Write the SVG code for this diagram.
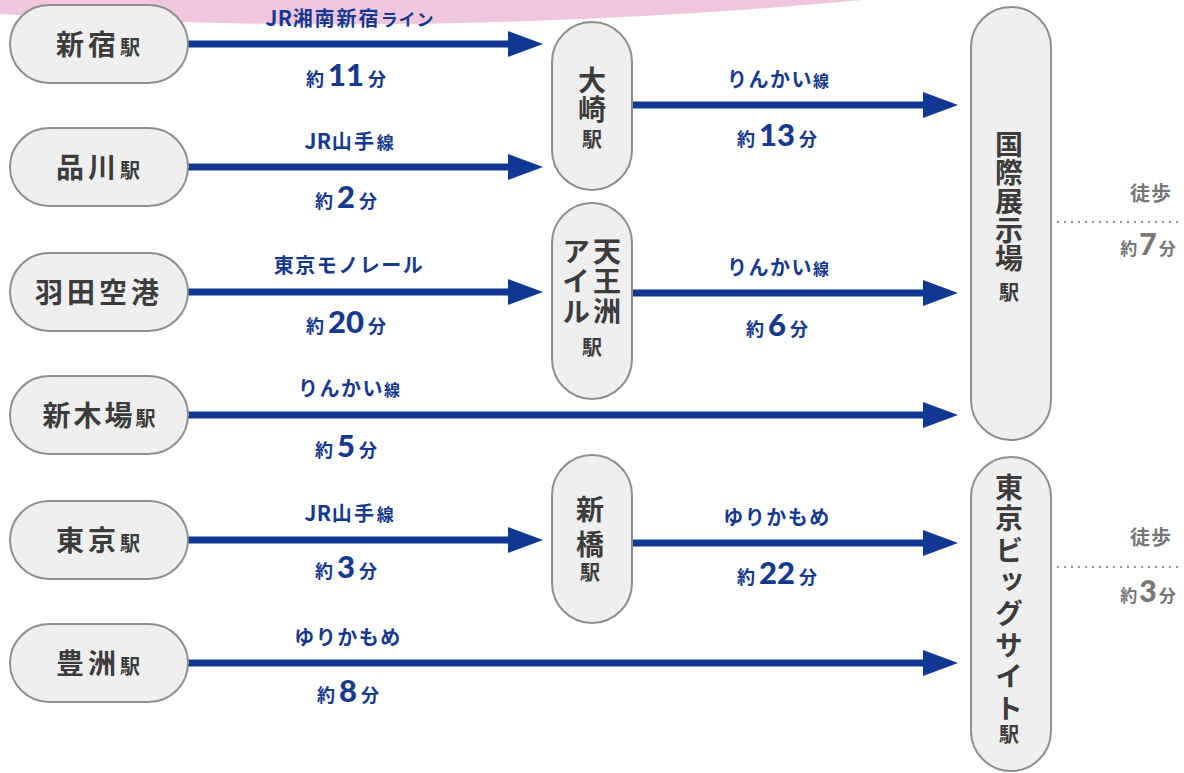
<svg xmlns="http://www.w3.org/2000/svg" width="1184" height="773" viewBox="0 0 1184 773">
<style>
.node{fill:#efefef;stroke:#8f8f8f;stroke-width:2}
.nt{font-family:"Noto Sans CJK JP","Noto Sans",sans-serif;font-weight:700;fill:#3c3c3c;text-anchor:middle;font-size:28px}
.nt .sm{font-size:20px;letter-spacing:0}
.vt{font-family:"Noto Sans CJK JP","Noto Sans",sans-serif;font-weight:700;fill:#3c3c3c;font-size:28px;writing-mode:vertical-rl;text-anchor:start}
.vt .sm{font-size:20px;letter-spacing:0}
.lbl{font-family:"Noto Sans CJK JP","Noto Sans",sans-serif;font-weight:700;fill:#15398e;text-anchor:middle;font-size:20px;letter-spacing:1.5px}
.lbl .s{font-size:16px;letter-spacing:0}
.lbl .jr{font-size:21px;letter-spacing:0.5px}
.tm{font-family:"Noto Sans CJK JP","Noto Sans",sans-serif;font-weight:700;fill:#15398e;text-anchor:middle;font-size:18px}
.tm .n{font-family:"Lato","Noto Sans",sans-serif;font-weight:900;font-size:31px}
.gr{font-family:"Noto Sans CJK JP","Noto Sans",sans-serif;font-weight:700;fill:#777;text-anchor:middle;font-size:20px;letter-spacing:1px}
.gt{font-family:"Noto Sans CJK JP","Noto Sans",sans-serif;font-weight:700;fill:#777;text-anchor:middle;font-size:17px}
.gt .n{font-family:"Lato","Noto Sans",sans-serif;font-weight:900;font-size:30px}
.arr{stroke:#103893;stroke-width:7;fill:none;marker-end:url(#ah)}
.dot{stroke:#9a9a9a;stroke-width:2.6;stroke-linecap:round;stroke-dasharray:0 7;fill:none}
</style>
<defs>
<marker id="ah" markerUnits="userSpaceOnUse" markerWidth="35" markerHeight="26" refX="1" refY="13" orient="auto">
<path d="M0,0 L35,13 L0,26 Z" fill="#103893"/>
</marker>
</defs>
<rect width="1184" height="773" fill="#ffffff"/>
<path d="M0,0 L0,14 Q430,40 862,0 Z" fill="#efc6de"/>

<g id="connectors">
<line class="arr" x1="188" y1="44" x2="509" y2="44"/>
<line class="arr" x1="188" y1="167" x2="509" y2="167"/>
<line class="arr" x1="188" y1="292" x2="509" y2="292"/>
<line class="arr" x1="188" y1="415" x2="924" y2="415"/>
<line class="arr" x1="188" y1="540" x2="509" y2="540"/>
<line class="arr" x1="188" y1="663" x2="924" y2="663"/>
<line class="arr" x1="632" y1="105" x2="924" y2="105"/>
<line class="arr" x1="632" y1="293" x2="924" y2="293"/>
<line class="arr" x1="632" y1="543" x2="924" y2="543"/>
<line class="dot" x1="1058" y1="222" x2="1184" y2="222"/>
<line class="dot" x1="1058" y1="567" x2="1184" y2="567"/>
</g>

<g id="labels">
<text class="lbl" x="350" y="26"><tspan class="jr">JR</tspan><tspan style="letter-spacing:2px">湘南新宿</tspan><tspan class="s" style="font-size:17px;letter-spacing:1px">ライン</tspan></text>
<text class="tm" x="346" y="86">約<tspan class="n" dx="4">11</tspan><tspan dx="4">分</tspan></text>
<text class="lbl" x="349" y="149"><tspan class="jr">JR</tspan><tspan style="letter-spacing:2.5px">山手</tspan><tspan class="s" style="font-size:17px">線</tspan></text>
<text class="tm" x="346" y="208">約<tspan class="n" dx="4">2</tspan><tspan dx="4">分</tspan></text>
<text class="lbl" x="349" y="273">東京モノレール</text>
<text class="tm" x="346" y="333">約<tspan class="n" dx="4">20</tspan><tspan dx="4">分</tspan></text>
<text class="lbl" x="349" y="396">りんかい<tspan class="s">線</tspan></text>
<text class="tm" x="346" y="457">約<tspan class="n" dx="4">5</tspan><tspan dx="4">分</tspan></text>
<text class="lbl" x="349" y="521"><tspan class="jr">JR</tspan><tspan style="letter-spacing:2.5px">山手</tspan><tspan class="s" style="font-size:17px">線</tspan></text>
<text class="tm" x="346" y="578">約<tspan class="n" dx="4">3</tspan><tspan dx="4">分</tspan></text>
<text class="lbl" x="348" y="645">ゆりかもめ</text>
<text class="tm" x="348" y="702">約<tspan class="n" dx="4">8</tspan><tspan dx="4">分</tspan></text>
<text class="lbl" x="778" y="87">りんかい<tspan class="s">線</tspan></text>
<text class="tm" x="777" y="146">約<tspan class="n" dx="4">13</tspan><tspan dx="4">分</tspan></text>
<text class="lbl" x="778" y="275">りんかい<tspan class="s">線</tspan></text>
<text class="tm" x="777" y="336">約<tspan class="n" dx="4">6</tspan><tspan dx="4">分</tspan></text>
<text class="lbl" x="777" y="525">ゆりかもめ</text>
<text class="tm" x="777" y="584">約<tspan class="n" dx="4">22</tspan><tspan dx="4">分</tspan></text>
<text class="gr" x="1151" y="201">徒歩</text>
<text class="gt" x="1148" y="255">約<tspan class="n" dx="2">7</tspan><tspan dx="2">分</tspan></text>
<text class="gr" x="1151" y="545">徒歩</text>
<text class="gt" x="1148" y="602">約<tspan class="n" dx="2">3</tspan><tspan dx="2">分</tspan></text>
</g>

<g id="node-shinjuku">
<rect class="node" x="10" y="5" width="178" height="78" rx="39"/>
<text class="nt" x="98" y="55"><tspan style="letter-spacing:4px">新宿</tspan><tspan class="sm">駅</tspan></text>
</g>
<g id="node-shinagawa">
<rect class="node" x="10" y="128" width="178" height="78" rx="39"/>
<text class="nt" x="98" y="178"><tspan style="letter-spacing:4px">品川</tspan><tspan class="sm">駅</tspan></text>
</g>
<g id="node-haneda">
<rect class="node" x="10" y="253" width="178" height="78" rx="39"/>
<text class="nt" x="99" y="303" style="letter-spacing:4px">羽田空港</text>
</g>
<g id="node-shinkiba">
<rect class="node" x="10" y="376" width="178" height="78" rx="39"/>
<text class="nt" x="99" y="426"><tspan style="letter-spacing:3px">新木場</tspan><tspan class="sm">駅</tspan></text>
</g>
<g id="node-tokyo">
<rect class="node" x="10" y="501" width="178" height="78" rx="39"/>
<text class="nt" x="98" y="551"><tspan style="letter-spacing:4px">東京</tspan><tspan class="sm">駅</tspan></text>
</g>
<g id="node-toyosu">
<rect class="node" x="10" y="624" width="178" height="78" rx="39"/>
<text class="nt" x="98" y="674"><tspan style="letter-spacing:4px">豊洲</tspan><tspan class="sm">駅</tspan></text>
</g>

<g id="node-osaki">
<rect class="node" x="552" y="22" width="80" height="168" rx="40"/>
<text class="vt" x="592" y="66"><tspan style="letter-spacing:1.5px">大崎</tspan><tspan class="sm" dy="4">駅</tspan></text>
</g>
<g id="node-tennozu">
<rect class="node" x="552" y="203" width="80" height="196" rx="40"/>
<text class="vt" x="607" y="237" style="letter-spacing:2px">天王洲</text>
<text class="vt" x="576" y="237" style="letter-spacing:2px">アイル</text>
<text class="nt" x="592" y="355"><tspan class="sm">駅</tspan></text>
</g>
<g id="node-shimbashi">
<rect class="node" x="552" y="455" width="80" height="168" rx="40"/>
<text class="vt" x="590" y="495"><tspan style="letter-spacing:7px">新橋</tspan><tspan class="sm" dy="-3">駅</tspan></text>
</g>

<g id="node-kokusai">
<rect class="node" x="971" y="7" width="80" height="433" rx="40"/>
<text class="vt" x="1009" y="130"><tspan style="letter-spacing:0.7px">国際展示場</tspan><tspan class="sm" dy="8">駅</tspan></text>
</g>
<g id="node-bigsight">
<rect class="node" x="971" y="457" width="80" height="314" rx="40"/>
<text class="vt" x="1009" y="473"><tspan style="letter-spacing:3.6px">東京ビッグサイト</tspan><tspan class="sm" dy="-2">駅</tspan></text>
</g>
</svg>
